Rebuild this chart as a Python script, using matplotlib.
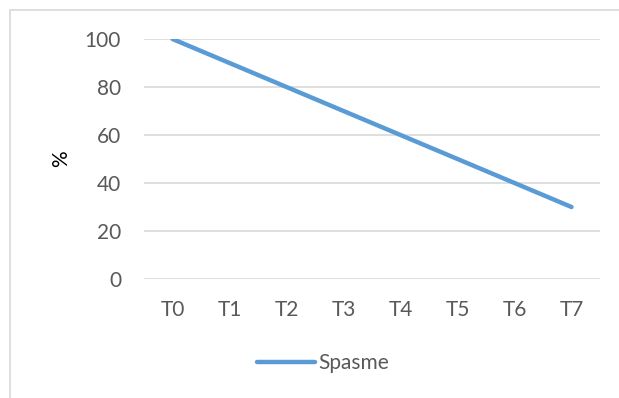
import matplotlib
matplotlib.use("Agg")
import matplotlib.pyplot as plt
from matplotlib.patches import Rectangle

categories = ["T0", "T1", "T2", "T3", "T4", "T5", "T6", "T7"]
spasme = [100, 90, 80, 70, 60, 50, 40, 30]
yticks = [0, 20, 40, 60, 80, 100]

plt.rcParams["font.family"] = ["Lato", "DejaVu Sans"]
text_color = "#595959"
grid_color = "#D9D9D9"
line_color = "#5B9BD5"
fs = 15

W, H = 619, 398
fig = plt.figure(figsize=(W / 100, H / 100), dpi=100)

# chart area frame
fig.patches.append(Rectangle((10 / W, -0.05), 1.1, 1 - 10 / H + 0.05,
                             transform=fig.transFigure, fill=False,
                             edgecolor=grid_color, linewidth=1.2))

ax = fig.add_axes([144 / W, 1 - 279 / H, (600 - 144) / W, (279 - 39) / H])
x = list(range(len(categories)))
ax.plot(x, spasme, color=line_color, linewidth=3.2, solid_capstyle="round",
        label="Spasme")

ax.set_xlim(-0.5, len(categories) - 0.5)
ax.set_ylim(0, 100)
ax.set_yticks(yticks)
ax.set_xticks(x)
ax.set_xticklabels(categories)
ax.yaxis.grid(True, color=grid_color, linewidth=1.2)
ax.set_axisbelow(True)
for s in ax.spines.values():
    s.set_visible(False)
ax.tick_params(length=0, labelsize=fs, colors=text_color)
ax.tick_params(axis="x", pad=15)
ax.tick_params(axis="y", pad=16.5)
ax.set_ylabel("%", fontsize=fs, color="#000000", labelpad=10)

fig.legend(loc="center", bbox_to_anchor=(323 / W, 1 - 363 / H), frameon=False,
           fontsize=fs, labelcolor=text_color, handlelength=2.75,
           handletextpad=0.15)

fig.savefig("out.png", dpi=100)
